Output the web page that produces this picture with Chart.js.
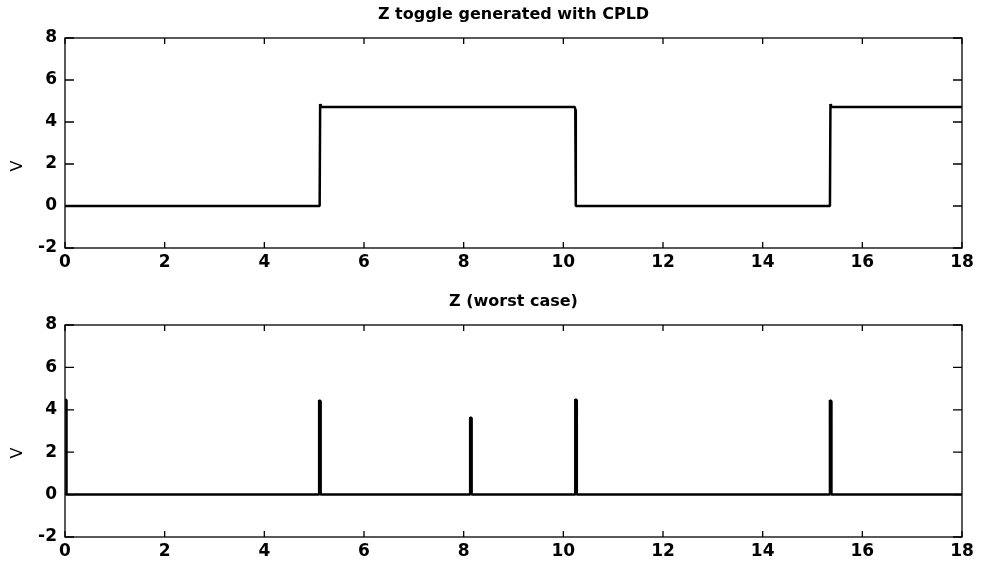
<!DOCTYPE html>
<html>
<head>
<meta charset="utf-8">
<script src="https://cdn.jsdelivr.net/npm/chart.js@4.4.1/dist/chart.umd.min.js"></script>
<style>
  html, body { margin: 0; padding: 0; background: #fff; }
  #wrap { position: relative; width: 982px; height: 563px; overflow: hidden; }
  .box { position: absolute; left: 0; width: 982px; }
</style>
</head>
<body>
<div id="wrap">
  <div class="box" style="top:0px;height:278px;"><canvas id="c1"></canvas></div>
  <div class="box" style="top:287px;height:276px;"><canvas id="c2"></canvas></div>
</div>
<script>
// ---- data ----
const titles = ["Z toggle generated with CPLD", "Z (worst case)"];
const yLabel = "V";
const xTicks = [0, 2, 4, 6, 8, 10, 12, 14, 16, 18];
const yTicks = [-2, 0, 2, 4, 6, 8];

const topX = [0, 5.11, 5.12, 5.13, 10.23, 10.24, 10.25, 15.35, 15.36, 15.37, 18];
const topY = [0, 0, 4.86, 4.72, 4.72, 4.6, 0, 0, 4.86, 4.72, 4.72];

const botX = [0, 0.03, 0.03, 5.10, 5.10, 5.13, 5.13, 8.13, 8.13, 8.16, 8.16, 10.24, 10.24, 10.27, 10.27, 15.35, 15.35, 15.38, 15.38, 18];
const botY = [4.5, 4.45, 0, 0, 4.45, 4.4, 0, 0, 3.65, 3.6, 0, 0, 4.5, 4.45, 0, 0, 4.45, 4.4, 0, 0];

// ---- helpers ----
const FONT = "'DejaVu Sans', 'Liberation Sans', Arial, sans-serif";

const boxPlugin = {
  id: 'matlabBox',
  afterDatasetsDraw(chart, args, opts) {
    const { ctx, chartArea: a, scales } = chart;
    const xs = scales.x, ys = scales.y;
    ctx.save();
    ctx.strokeStyle = '#000';
    ctx.lineWidth = 1.3;
    ctx.strokeRect(a.left, a.top, a.right - a.left, a.bottom - a.top);
    ctx.beginPath();
    xs.ticks.forEach(t => {
      const px = xs.getPixelForValue(t.value);
      ctx.moveTo(px, a.bottom); ctx.lineTo(px, a.bottom - 6);
      ctx.moveTo(px, a.top); ctx.lineTo(px, a.top + 6);
    });
    ys.ticks.forEach(t => {
      const py = ys.getPixelForValue(t.value);
      ctx.moveTo(a.left, py); ctx.lineTo(a.left + 9, py);
      ctx.moveTo(a.right, py); ctx.lineTo(a.right - 9, py);
    });
    ctx.stroke();
    // title centred over the axes box
    ctx.fillStyle = '#000';
    ctx.textAlign = 'center';
    ctx.textBaseline = 'middle';
    ctx.font = "bold 16px " + FONT;
    ctx.fillText(opts.title, (a.left + a.right) / 2, a.top - 23);
    // y label, rotated
    ctx.save();
    ctx.translate(18, a.top + 128);
    ctx.rotate(-Math.PI / 2);
    ctx.font = "16px " + FONT;
    ctx.fillText(opts.ylabel, 0, 0);
    ctx.restore();
    ctx.restore();
  }
};

function toPoints(xs, ys) { return xs.map((x, i) => ({ x: x, y: ys[i] })); }

function makeChart(id, title, xs, ys, xAxisH) {
  return new Chart(document.getElementById(id), {
    type: 'scatter',
    data: {
      datasets: [{
        data: toPoints(xs, ys),
        showLine: true,
        borderColor: '#000',
        backgroundColor: '#000',
        borderWidth: 2.5,
        borderJoinStyle: 'bevel',
        pointRadius: 0,
        tension: 0
      }]
    },
    options: {
      responsive: true,
      maintainAspectRatio: false,
      animation: false,
      layout: { padding: { left: 0, right: 20, top: 38, bottom: 0 } },
      plugins: {
        legend: { display: false },
        tooltip: { enabled: false },
        title: { display: false },
        matlabBox: { title: title, ylabel: yLabel }
      },
      scales: {
        x: {
          type: 'linear',
          min: 0, max: 18,
          afterBuildTicks(s) { s.ticks = xTicks.map(v => ({ value: v })); },
          afterFit(s) { s.height = xAxisH; },
          grid: { display: false, drawTicks: false },
          border: { display: false },
          ticks: {
            color: '#000',
            padding: 4,
            maxRotation: 0,
            font: { family: FONT, size: 17, weight: 'bold' }
          }
        },
        y: {
          min: -2, max: 8,
          afterBuildTicks(s) { s.ticks = yTicks.map(v => ({ value: v })); },
          afterFit(s) { s.width = 65; },
          grid: { display: false, drawTicks: false },
          border: { display: false },
          title: { display: false },
          ticks: {
            color: '#000',
            padding: 8,
            font: { family: FONT, size: 17, weight: 'bold' }
          }
        }
      }
    },
    plugins: [boxPlugin]
  });
}

makeChart('c1', titles[0], topX, topY, 30);
makeChart('c2', titles[1], botX, botY, 26);
</script>
</body>
</html>
